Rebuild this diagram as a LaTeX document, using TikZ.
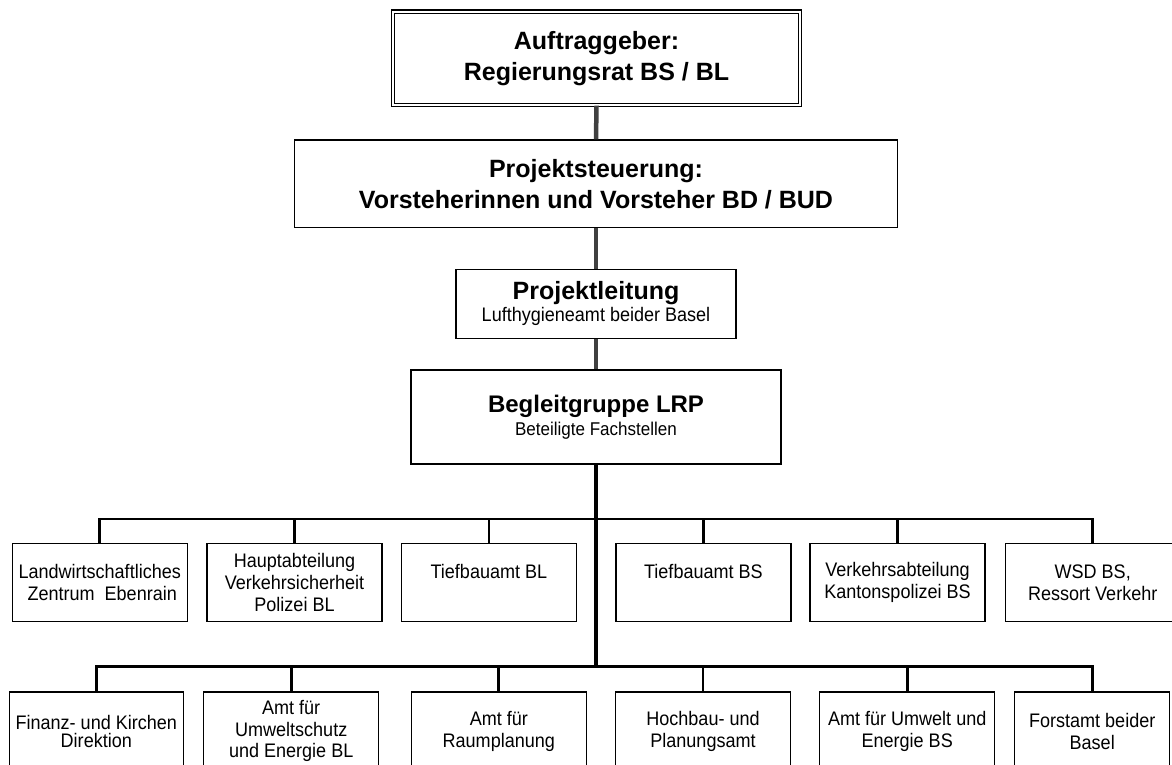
\documentclass[tikz,border=0pt]{standalone}
\usepackage{fontspec}
\setmainfont{Liberation Sans}
\newfontfamily\narrowsans{Liberation Sans}[FakeStretch=0.92]
\definecolor{conn}{RGB}{64,64,64}
\begin{document}
\begin{tikzpicture}[x=1pt,y=-1pt,
  box/.style={draw=black, line width=1.3pt, inner sep=0pt, align=center,
              font=\narrowsans\fontsize{19.6}{21.7}\selectfont},
  rowbox/.style={box, minimum width=175pt, minimum height=78.4pt},
  headbox/.style={box, font=\fontsize{25}{31}\selectfont\bfseries},
  gconn/.style={draw=conn, line width=4.5pt},
  vmain/.style={draw=black, line width=4pt},
  hline/.style={draw=black, line width=2.8pt, line join=miter},
]
\useasboundingbox (0,0) rectangle (1172,764);
\clip (0,0) rectangle (1172,764);
\fill[white] (0,0) rectangle (1172,764);

% hierarchy
\node[headbox, double=white, double distance=2pt, line width=1.2pt,
      minimum width=406.6pt, minimum height=93.6pt] (auf) at (596.5,58.3)
      {Auftraggeber:\\Regierungsrat BS / BL};
\node[headbox, minimum width=603pt, minimum height=87.7pt] (pst) at (596,183.9)
      {Projektsteuerung:\\Vorsteherinnen und Vorsteher BD / BUD};
\node[box, font=\narrowsans\fontsize{19.6}{22.3}\selectfont,
      minimum width=280pt, minimum height=69pt] (pl) at (596,303.8)
      {{\rmfamily\fontsize{25}{30}\selectfont\bfseries Projektleitung}\\Lufthygieneamt beider Basel};
\node[box, font=\narrowsans\fontsize{18.5}{23}\selectfont,
      minimum width=370pt, minimum height=94pt] (bg) at (596,417)
      {{\rmfamily\fontsize{24}{29}\selectfont\bfseries Begleitgruppe LRP}\\Beteiligte Fachstellen};

% row 1
\node[rowbox] (r1a) at (99.7,582.5)  {Landwirtschaftliches\\\ Zentrum\ \ Ebenrain};
\node[rowbox] (r1b) at (294.5,582.5) {Hauptabteilung\\Verkehrsicherheit\\Polizei BL};
\node[rowbox] (r1c) at (488.9,582.5) {Tiefbauamt BL\\\mbox{}};
\node[rowbox] (r1d) at (703.4,582.5) {Tiefbauamt BS\\\mbox{}};
\node[rowbox] (r1e) at (897.5,582.5) {Verkehrsabteilung\\Kantonspolizei BS};
\node[rowbox] (r1f) at (1092.7,582.5) {WSD BS,\\Ressort Verkehr};

% row 2
\node[rowbox, font=\narrowsans\fontsize{19.6}{17.7}\selectfont, minimum width=174pt] (r2a) at (96.3,731.2)
      {Finanz- und Kirchen\\Direktion};
\node[rowbox] (r2b) at (291.2,731.2) {Amt für\\Umweltschutz\\und Energie BL};
\node[rowbox] (r2c) at (498.8,731.2) {Amt für\\Raumplanung};
\node[rowbox] (r2d) at (703,731.2)   {Hochbau- und\\Planungsamt};
\node[rowbox] (r2e) at (907.2,731.2) {Amt für Umwelt und\\Energie BS};
\node[rowbox, minimum width=155pt] (r2f) at (1092.2,731.2) {Forstamt beider\\Basel};

% junctions
\coordinate (j1) at (596,519);
\coordinate (j2) at (596,666.7);

% gray connectors
\draw[gconn] (auf.south) -- (pst.north);
\draw[gconn] (pst.south) -- (pl.north);
\draw[gconn] (pl.south) -- (bg.north);

% main trunk
\draw[vmain] (bg.south) -- (j2);

% row 1 bus
\draw[hline] (r1a.north) -- (r1a.north |- j1) -- (r1f.north |- j1) -- (r1f.north);
\foreach \n in {r1b,r1c,r1d,r1e} \draw[hline] (\n.north |- j1) -- (\n.north);

% row 2 bus
\draw[hline] (r2a.north) -- (r2a.north |- j2) -- (r2f.north |- j2) -- (r2f.north);
\foreach \n in {r2b,r2c,r2d,r2e} \draw[hline] (\n.north |- j2) -- (\n.north);
\end{tikzpicture}
\end{document}
